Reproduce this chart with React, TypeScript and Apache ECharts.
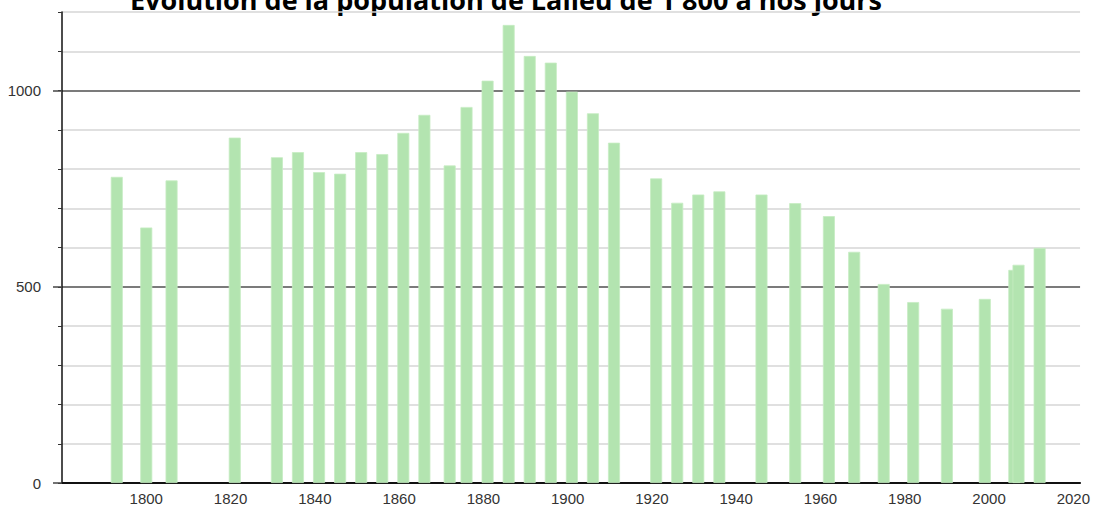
import React, { useEffect, useRef } from "react";
import * as echarts from "echarts";

const titleText = "Évolution de la population de Lalleu de 1 800 à nos jours";
const years = [1793, 1800, 1806, 1821, 1831, 1836, 1841, 1846, 1851, 1856, 1861, 1866, 1872, 1876, 1881, 1886, 1891, 1896, 1901, 1906, 1911, 1921, 1926, 1931, 1936, 1946, 1954, 1962, 1968, 1975, 1982, 1990, 1999, 2006, 2007, 2012];
const population = [780, 651, 771, 880, 830, 843, 792, 788, 843, 838, 892, 938, 809, 958, 1025, 1167, 1088, 1071, 997, 942, 867, 776, 714, 735, 743, 735, 713, 680, 589, 507, 461, 444, 469, 543, 556, 599];
const xTickLabels = [1800, 1820, 1840, 1860, 1880, 1900, 1920, 1940, 1960, 1980, 2000, 2020];
const yMinorTicks = [0, 100, 200, 300, 400, 500, 600, 700, 800, 900, 1000, 1100, 1200];
const yMajorTicks = [0, 500, 1000];

export default function App() {
  const ref = useRef<HTMLDivElement>(null);
  useEffect(() => {
    if (!ref.current) return;
    const chart = echarts.init(ref.current, undefined, { renderer: "svg" });
    const labelFont = { color: "#333", fontFamily: "Liberation Sans", fontSize: 15 };
    chart.setOption({
      animation: false,
      backgroundColor: "#fff",
      grid: { left: 62, right: 7, top: 12, bottom: 23, containLabel: false },
      graphic: [
        {
          type: "text",
          x: 506,
          y: -1,
          style: {
            text: titleText,
            font: 'bold 27px "Open Sans"',
            fill: "#000",
            align: "center",
            verticalAlign: "middle",
          },
        },
      ],
      xAxis: {
        type: "value",
        min: 1780,
        max: 2021.6,
        interval: 20,
        axisLine: { show: true, lineStyle: { color: "#111", width: 2 } },
        axisTick: { show: false },
        splitLine: { show: false },
        axisLabel: { ...labelFont, margin: 8, customValues: xTickLabels, formatter: (v: number) => String(v) },
      },
      yAxis: [
        {
          type: "value",
          min: 0,
          max: 1200,
          interval: 100,
          axisLine: { show: true, lineStyle: { color: "#111", width: 1.5 } },
          axisTick: { show: true, length: 4, customValues: yMinorTicks, lineStyle: { color: "#333", width: 1 } },
          axisLabel: { show: false },
          splitLine: { show: true, lineStyle: { color: "#d6d6d6", width: 1.5 } },
        },
        {
          type: "value",
          min: 0,
          max: 1200,
          interval: 100,
          position: "left",
          axisLine: { show: false },
          axisTick: { show: true, length: 9, customValues: yMajorTicks, lineStyle: { color: "#444", width: 1.5 } },
          axisLabel: { ...labelFont, margin: 21, customValues: yMajorTicks, formatter: (v: number) => String(v) },
          splitLine: { show: true, showMinLine: false, showMaxLine: true, lineStyle: { color: "#5a5a5a", width: 1.5 } },
        },
      ],
      series: [
        {
          type: "bar",
          yAxisIndex: 0,
          barWidth: 12,
          itemStyle: { color: "#b3e4b0", borderColor: "#c6ecc3", borderWidth: 0.8 },
          data: years.map((y, i) => [y, population[i]]),
        },
      ],
    });
    return () => chart.dispose();
  }, []);
  return <div ref={ref} style={{ position: "absolute", left: 0, top: 0, width: 1093, height: 506 }} />;
}
